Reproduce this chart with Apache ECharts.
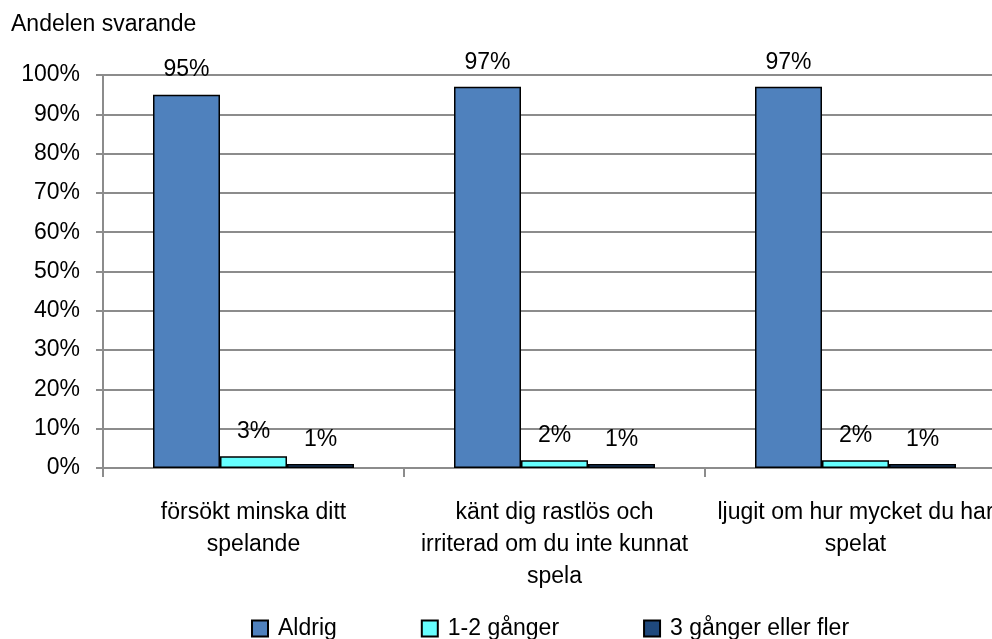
<!DOCTYPE html>
<html>
<head>
<meta charset="utf-8">
<script src="https://cdn.jsdelivr.net/npm/echarts@6/dist/echarts.min.js"></script>
<style>
  html, body { margin: 0; padding: 0; background: #fff; }
  #chart { width: 992px; height: 639px; }
</style>
</head>
<body>
<div id="chart"></div>
<script>
// Survey questions (x categories)
const categories = [
  'försökt minska ditt\nspelande',
  'känt dig rastlös och\nirriterad om du inte kunnat\nspela',
  'ljugit om hur mycket du har\nspelat'
];
const seriesNames = ['Aldrig', '1-2 gånger', '3 gånger eller fler'];
// Share of respondents, percent
const aldrig = [95, 97, 97];
const enTvaGanger = [3, 2, 2];
const treEllerFler = [1, 1, 1];
const yTicks = [0, 10, 20, 30, 40, 50, 60, 70, 80, 90, 100];

const FONT = '"Liberation Sans", Arial, sans-serif';
const colors = ['#4F81BD', '#66FFFF', '#1F497D'];

function barSeries(name, data, color) {
  return {
    name: name,
    type: 'bar',
    data: data,
    barWidth: 67,
    barGap: '0%',
    itemStyle: { color: color, borderColor: '#000', borderWidth: 1.5 },
    label: {
      show: true,
      position: 'top',
      distance: 13,
      formatter: '{c}%',
      color: '#000',
      fontFamily: FONT,
      fontSize: 23
    }
  };
}

const chart = echarts.init(document.getElementById('chart'), null, { renderer: 'canvas' });
chart.setOption({
  animation: false,
  backgroundColor: '#fff',
  title: {
    text: 'Andelen svarande',
    left: 6,
    top: 8,
    textStyle: { fontFamily: FONT, fontSize: 23, fontWeight: 'normal', color: '#000' }
  },
  legend: {
    data: seriesNames,
    top: 612,
    left: 246,
    icon: 'rect',
    itemWidth: 16,
    itemHeight: 16,
    itemGap: 84,
    textStyle: { fontFamily: FONT, fontSize: 23, color: '#000', padding: [0, 0, 0, 5] }
  },
  // the plot runs past the right edge of the page, so the last label is cut off
  grid: { left: 103, top: 75, width: 903, height: 393, containLabel: false, outerBoundsMode: 'none' },
  xAxis: {
    type: 'category',
    data: categories,
    axisLine: { lineStyle: { color: '#8c8c8c', width: 2 } },
    axisTick: { show: true, length: 9, lineStyle: { color: '#8c8c8c', width: 2 } },
    axisLabel: {
      interval: 0,
      margin: 29,
      color: '#000',
      fontFamily: FONT,
      fontSize: 23,
      lineHeight: 32,
      align: 'center'
    }
  },
  yAxis: {
    type: 'value',
    min: yTicks[0],
    max: yTicks[yTicks.length - 1],
    interval: 10,
    axisLine: { show: true, lineStyle: { color: '#8c8c8c', width: 2 } },
    axisTick: { show: true, length: 7, lineStyle: { color: '#8c8c8c', width: 2 } },
    splitLine: { show: true, lineStyle: { color: '#8c8c8c', width: 2 } },
    axisLabel: {
      margin: 23,
      formatter: '{value}%',
      color: '#000',
      fontFamily: FONT,
      fontSize: 23
    }
  },
  series: [
    barSeries(seriesNames[0], aldrig, colors[0]),
    barSeries(seriesNames[1], enTvaGanger, colors[1]),
    barSeries(seriesNames[2], treEllerFler, colors[2])
  ]
});
</script>
</body>
</html>
